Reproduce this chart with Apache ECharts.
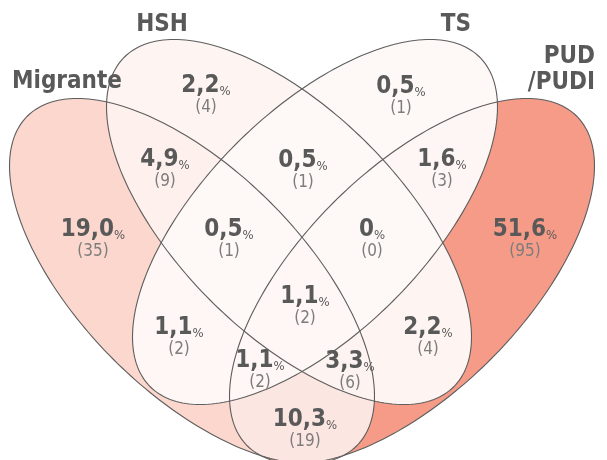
<!DOCTYPE html>
<html>
<head>
<meta charset="utf-8">
<script src="https://cdn.jsdelivr.net/npm/echarts@6/dist/echarts.min.js"></script>
<style>
  html, body { margin: 0; padding: 0; background: #fff; }
  #chart { width: 607px; height: 460px; }
</style>
</head>
<body>
<div id="chart"></div>
<script>
// sets and regions of the venn (index into setNames)
const setNames = ['Migrante', 'HSH', 'TS', 'PUD\n/PUDI'];
const regionSets = [
  [0], [1], [2], [3],
  [0, 1], [1, 2], [2, 3], [0, 2], [1, 3], [0, 3],
  [0, 1, 2], [1, 2, 3], [0, 2, 3], [0, 1, 3],
  [0, 1, 2, 3],
];
const regionPct = [19.0, 2.2, 0.5, 51.6, 4.9, 0.5, 1.6, 1.1, 2.2, 10.3, 0.5, 0, 1.1, 3.3, 1.1];
const regionCount = [35, 4, 1, 95, 9, 1, 3, 2, 4, 19, 1, 0, 2, 6, 2];

// layout, in chart units (0..607 x 0..460, y down)
const ellipseShapes = [
  { cx: 192, cy: 281, rx: 233, ry: 111, angle: 45 },
  { cx: 289, cy: 222, rx: 233, ry: 111, angle: 45 },
  { cx: 315, cy: 222, rx: 233, ry: 111, angle: -45 },
  { cx: 412, cy: 281, rx: 233, ry: 111, angle: -45 },
];
const setLabelPos = [[12, 82, 'left'], [162, 25, 'center'], [456, 25, 'center'], [595, 70, 'right']];
const regionLabelPos = [
  [93, 230], [206, 86], [401, 87], [525, 230],
  [165, 160], [303, 161], [442, 160], [179, 328], [428, 328], [305, 420],
  [229, 230], [372, 230], [260, 361], [350, 362],
  [305, 297],
];

const fontFamily = "'DejaVu Sans Condensed', 'DejaVu Sans', sans-serif";

function ellipsePoints(e, api) {
  const pts = [];
  const th = e.angle * Math.PI / 180;
  const n = 240;
  for (let k = 0; k < n; k++) {
    const t = (k / n) * Math.PI * 2;
    const x = e.cx + e.rx * Math.cos(t) * Math.cos(th) - e.ry * Math.sin(t) * Math.sin(th);
    const y = e.cy + e.rx * Math.cos(t) * Math.sin(th) + e.ry * Math.sin(t) * Math.cos(th);
    pts.push(api.coord([x, y]));
  }
  return pts;
}

// sutherland-hodgman, clip polygon is convex
function clipConvex(subject, clip) {
  let area = 0;
  for (let i = 0; i < clip.length; i++) {
    const a = clip[i], b = clip[(i + 1) % clip.length];
    area += a[0] * b[1] - b[0] * a[1];
  }
  const sgn = area > 0 ? 1 : -1;
  let out = subject;
  for (let i = 0; i < clip.length && out.length; i++) {
    const a = clip[i], b = clip[(i + 1) % clip.length];
    const side = p => sgn * ((b[0] - a[0]) * (p[1] - a[1]) - (b[1] - a[1]) * (p[0] - a[0]));
    const input = out;
    out = [];
    for (let j = 0; j < input.length; j++) {
      const p = input[j], q = input[(j + 1) % input.length];
      const sp = side(p), sq = side(q);
      if (sp >= 0) out.push(p);
      if ((sp >= 0) !== (sq >= 0)) {
        const r = sp / (sp - sq);
        out.push([p[0] + (q[0] - p[0]) * r, p[1] + (q[1] - p[1]) * r]);
      }
    }
  }
  return out;
}

function fmtPct(v) {
  return v === 0 ? '0' : v.toFixed(1).replace('.', ',');
}

// paint smaller intersections last so each region ends up with its own colour
const regionOrder = regionSets.map((s, i) => i).sort((a, b) => regionSets[a].length - regionSets[b].length);

const chart = echarts.init(document.getElementById('chart'));

chart.setOption({
  animation: false,
  backgroundColor: '#fff',
  grid: { left: 0, right: 0, top: 0, bottom: 0 },
  xAxis: { type: 'value', min: 0, max: 607, show: false },
  yAxis: { type: 'value', min: 0, max: 460, inverse: true, show: false },
  visualMap: {
    show: false,
    type: 'continuous',
    seriesIndex: 0,
    dimension: 0,
    min: 0.1,
    max: 51.6,
    inRange: { color: ['#fef9f7', '#f59b88'] },
    outOfRange: { color: ['#ffffff'] },
  },
  series: [
    {
      type: 'custom',
      name: 'regions',
      coordinateSystem: 'cartesian2d',
      silent: true,
      data: regionOrder.map(i => [regionPct[i], i]),
      renderItem: (params, api) => {
        const members = regionSets[api.value(1)];
        let poly = ellipsePoints(ellipseShapes[members[0]], api);
        for (let m = 1; m < members.length; m++) {
          poly = clipConvex(poly, ellipsePoints(ellipseShapes[members[m]], api));
        }
        return {
          type: 'polygon',
          shape: { points: poly },
          style: { fill: api.visual('color'), stroke: null },
        };
      },
    },
    {
      type: 'custom',
      name: 'outlines',
      coordinateSystem: 'cartesian2d',
      silent: true,
      z: 3,
      data: ellipseShapes.map((e, i) => [e.cx, e.cy, i]),
      renderItem: (params, api) => ({
        type: 'polygon',
        shape: { points: ellipsePoints(ellipseShapes[api.value(2)], api) },
        style: { fill: null, stroke: '#5e5e5e', lineWidth: 1.1 },
      }),
    },
    {
      type: 'custom',
      name: 'values',
      coordinateSystem: 'cartesian2d',
      silent: true,
      z: 4,
      data: regionLabelPos.map((p, i) => [p[0], p[1], i]),
      renderItem: (params, api) => {
        const i = api.value(2);
        const pt = api.coord([api.value(0), api.value(1)]);
        return {
          type: 'text',
          x: pt[0],
          y: pt[1] - 12,
          style: {
            text: '{p|' + fmtPct(regionPct[i]) + '}{s|%}\n{c|(' + regionCount[i] + ')}',
            align: 'center',
            verticalAlign: 'top',
            rich: {
              p: { fontFamily, fontSize: 24, fontWeight: 'bold', fill: '#595959', lineHeight: 24, verticalAlign: 'bottom' },
              s: { fontFamily, fontSize: 13, fill: '#595959', lineHeight: 19, verticalAlign: 'bottom' },
              c: { fontFamily, fontSize: 17, fill: '#7d7d7d', lineHeight: 19, align: 'center' },
            },
          },
        };
      },
    },
    {
      type: 'custom',
      name: 'sets',
      coordinateSystem: 'cartesian2d',
      silent: true,
      z: 4,
      data: setLabelPos.map((p, i) => [p[0], p[1], i]),
      renderItem: (params, api) => {
        const i = api.value(2);
        const pt = api.coord([api.value(0), api.value(1)]);
        return {
          type: 'text',
          x: pt[0],
          y: pt[1],
          style: {
            text: setNames[i],
            align: setLabelPos[i][2],
            verticalAlign: 'middle',
            fontFamily,
            fontSize: 24,
            fontWeight: 'bold',
            lineHeight: 26,
            fill: '#595959',
          },
        };
      },
    },
  ],
});
</script>
</body>
</html>
